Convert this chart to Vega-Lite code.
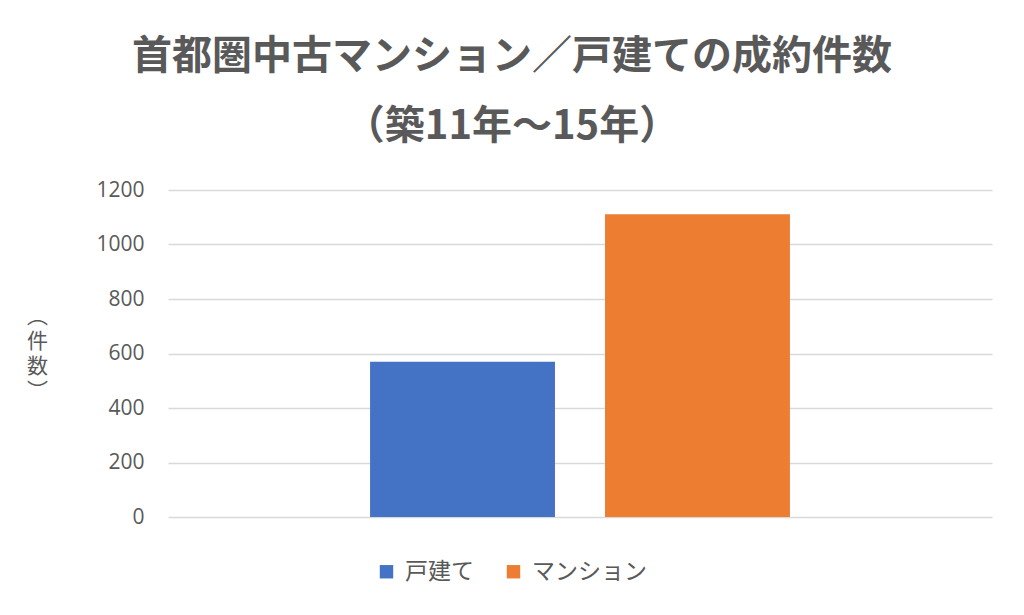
{
  "$schema": "https://vega.github.io/schema/vega-lite/v6.json",
  "autosize": {"type": "none"},
  "width": 824,
  "height": 327,
  "padding": {"left": 168, "top": 190, "right": 32, "bottom": 98},
  "background": "white",
  "title": {
    "text": ["首都圏中古マンション／戸建ての成約件数", "（築11年～15年）"],
    "font": "Noto Sans CJK JP",
    "fontSize": 40,
    "fontWeight": "bold",
    "color": "#595959",
    "lineHeight": 70,
    "anchor": "middle",
    "dx": -68,
    "offset": 32
  },
  "data": {
    "values": [
      {"type": "戸建て", "count": 570},
      {"type": "マンション", "count": 1111}
    ]
  },
  "mark": {"type": "bar"},
  "encoding": {
    "x": {
      "field": "type",
      "type": "nominal",
      "sort": ["戸建て", "マンション"],
      "scale": {"paddingInner": 0.213, "paddingOuter": 0.86},
      "axis": null
    },
    "y": {
      "field": "count",
      "type": "quantitative",
      "scale": {"domain": [0, 1200]},
      "axis": {
        "values": [0, 200, 400, 600, 800, 1000, 1200],
        "format": "d",
        "title": ["︵", "件", "数", "︶"],
        "titleAngle": 0,
        "titleX": -131,
        "titleY": 126,
        "titleAlign": "center",
        "titleBaseline": "middle",
        "titleFont": "Noto Sans CJK JP",
        "titleFontSize": 21,
        "titleFontWeight": "normal",
        "titleLineHeight": 25,
        "titleColor": "#595959",
        "labelFont": "Open Sans",
        "labelFontSize": 21,
        "labelColor": "#595959",
        "labelPadding": 24,
        "ticks": false,
        "domain": false,
        "grid": true,
        "gridColor": "#d9d9d9",
        "gridWidth": 1.5
      }
    },
    "color": {
      "field": "type",
      "type": "nominal",
      "scale": {"domain": ["戸建て", "マンション"], "range": ["#4472C4", "#ED7D31"]},
      "legend": {
        "orient": "none",
        "direction": "horizontal",
        "legendX": 207,
        "legendY": 370,
        "title": null,
        "symbolType": "square",
        "symbolSize": 180,
        "symbolStrokeWidth": 0,
        "labelFont": "Noto Sans CJK JP",
        "labelFontSize": 23,
        "labelColor": "#595959",
        "labelOffset": 7,
        "columnPadding": 28
      }
    }
  },
  "config": {
    "view": {"stroke": null}
  }
}
